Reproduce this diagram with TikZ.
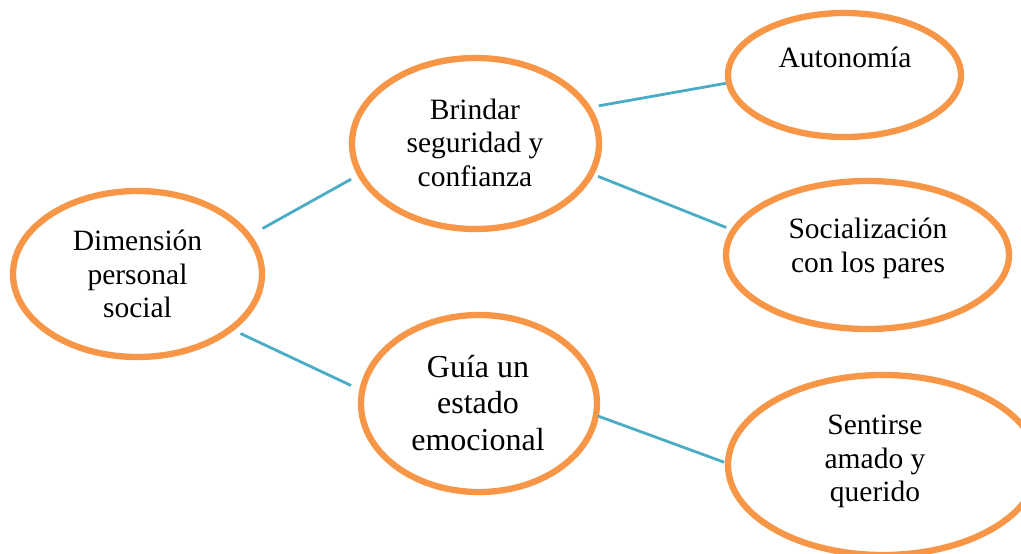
\documentclass[tikz,border=0pt]{standalone}
\usepackage{fontspec}
\setmainfont{Liberation Serif}
\usetikzlibrary{calc,shapes.geometric}
\definecolor{ovalorange}{HTML}{F79646}
\definecolor{linkteal}{HTML}{4BACC6}
\begin{document}
\begin{tikzpicture}[x=1pt,y=-1pt,
  oval/.style={shape=ellipse,draw=ovalorange,line width=6.3pt,inner sep=0pt,outer sep=0pt},
  lbl/.style={align=center,inner sep=0pt,font=\fontsize{29.5}{33.5}\selectfont},
  biglbl/.style={lbl,font=\fontsize{32}{36.5}\selectfont},
  link/.style={draw=linkteal,line width=2.8pt}]
\useasboundingbox (0,0) rectangle (1021,554);
\clip (0,0) rectangle (1021,554);
% ovals
\node[oval,minimum width=249pt,minimum height=166pt] (dim) at (137.5,274) {};
\node[oval,minimum width=247pt,minimum height=171pt] (brin) at (475.5,143.5) {};
\node[oval,minimum width=233pt,minimum height=124pt] (auto) at (844.5,75) {};
\node[oval,minimum width=283pt,minimum height=148pt] (soc) at (867.5,255) {};
\node[oval,minimum width=236pt,minimum height=177pt] (guia) at (479,403.5) {};
\node[oval,minimum width=310pt,minimum height=180pt] (sent) at (883,465) {};
% texts
\node[lbl] (tdim) at (137.5,274) {Dimensión\\personal\\social};
\node[lbl] (tbrin) at (475,142.6) {Brindar\\seguridad y\\confianza};
\node[lbl] (tauto) at (845,57) {Autonomía};
\node[lbl] (tsoc) at (868,248.2) {Socialización\\con los pares};
\node[biglbl] (tguia) at (478,402.7) {Guía un\\estado\\emocional};
\node[lbl] (tsent) at (875,461.5) {Sentirse\\amado y\\querido};
% connectors
\draw[link] ($(dim.center)!1.145!(dim.20)$) -- ($(brin.center)!1.090!(brin.196)$);
\draw[link] ($(brin.center)!1.091!(brin.17)$) -- ($(auto.center)!1.029!(auto.184)$);
\draw[link] ($(brin.center)!1.064!(brin.345)$) -- ($(soc.center)!1.065!(soc.169)$);
\draw[link] ($(dim.center)!1.095!(dim.330)$) -- ($(guia.center)!1.103!(guia.172)$);
\draw[link] ($(guia.center)!1.018!(guia.354)$) -- ($(sent.center)!1.025!(sent.179)$);
\end{tikzpicture}
\end{document}
